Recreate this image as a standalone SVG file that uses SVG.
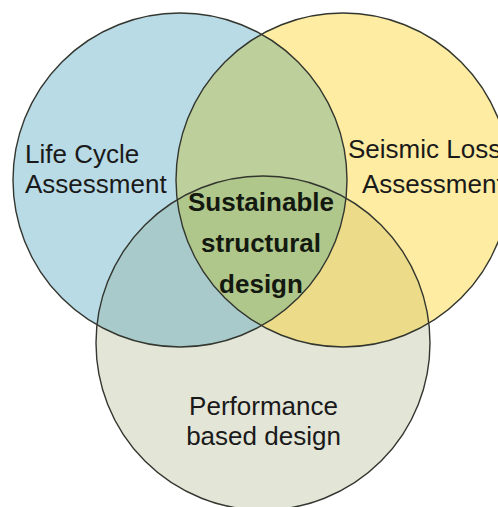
<svg xmlns="http://www.w3.org/2000/svg" width="498" height="507" viewBox="0 0 498 507">
  <style>
    .ring { fill: none; stroke: #33362f; stroke-width: 1.4; }
    .lbl { font-family: "Liberation Sans", Arial, sans-serif; font-size: 26px; fill: #1a1a1a; }
    .core { font-family: "Liberation Sans", Arial, sans-serif; font-size: 26px; font-weight: bold; fill: #141910; text-anchor: middle; }
    .mid { text-anchor: middle; }
  </style>
  <defs>
    <clipPath id="clipLca"><circle cx="180" cy="180" r="167"/></clipPath>
    <clipPath id="clipSla"><circle cx="343" cy="180" r="167"/></clipPath>
    <clipPath id="clipPbd"><circle cx="263" cy="343" r="167"/></clipPath>
  </defs>
  <rect width="498" height="507" fill="#ffffff"/>

  <!-- base discs -->
  <g id="lca">
    <circle cx="180" cy="180" r="167" fill="#b8dbe6"/>
  </g>
  <g id="sla">
    <circle cx="343" cy="180" r="167" fill="#fdeca1"/>
  </g>
  <g id="pbd">
    <circle cx="263" cy="343" r="167" fill="#e3e5d7"/>
  </g>

  <!-- pairwise and triple overlaps -->
  <g id="overlaps">
    <g clip-path="url(#clipLca)">
      <circle cx="343" cy="180" r="167" fill="#bdd09b"/>
      <circle cx="263" cy="343" r="167" fill="#a8cacb"/>
    </g>
    <g clip-path="url(#clipSla)">
      <circle cx="263" cy="343" r="167" fill="#ecdc89"/>
    </g>
    <g clip-path="url(#clipLca)">
      <g clip-path="url(#clipSla)">
        <circle cx="263" cy="343" r="167" fill="#afc78b"/>
      </g>
    </g>
  </g>

  <!-- outlines -->
  <g id="outlines">
    <circle class="ring" cx="180" cy="180" r="167"/>
    <circle class="ring" cx="343" cy="180" r="167"/>
    <circle class="ring" cx="263" cy="343" r="167"/>
  </g>

  <g id="connectors"/>

  <!-- labels -->
  <g id="lca-label">
    <text class="lbl" x="25" y="163">Life Cycle</text>
    <text class="lbl" x="25" y="193">Assessment</text>
  </g>
  <g id="sla-label">
    <text class="lbl" x="348" y="158">Seismic Loss</text>
    <text class="lbl" x="362" y="193">Assessment</text>
  </g>
  <g id="pbd-label">
    <text class="lbl mid" x="263.5" y="415">Performance</text>
    <text class="lbl mid" x="263.5" y="445">based design</text>
  </g>
  <g id="core-label">
    <text class="core" x="261" y="211">Sustainable</text>
    <text class="core" x="261" y="252">structural</text>
    <text class="core" x="261" y="293">design</text>
  </g>
</svg>
